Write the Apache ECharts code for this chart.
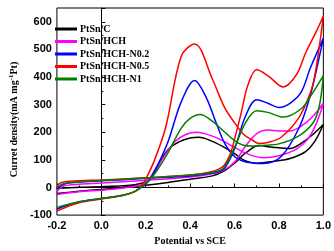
<!DOCTYPE html>
<html><head><meta charset="utf-8">
<script src="https://cdn.jsdelivr.net/npm/echarts@6/dist/echarts.min.js"></script>
<style>html,body{margin:0;padding:0;background:#fff}#c{width:334px;height:251px}</style>
</head><body><div id="c"></div>
<script>
const seriesNames = ['PtSn/C', 'PtSn/HCH', 'PtSn/HCH-N0.2', 'PtSn/HCH-N0.5', 'PtSn/HCH-N1'];
const xTicks = [-0.2, 0.0, 0.2, 0.4, 0.6, 0.8, 1.0];
const yTicks = [-100, 0, 100, 200, 300, 400, 500, 600];

// Each series: potentials (V vs SCE) and current densities along the CV loop (forward then backward)
const blackE = [-0.2,-0.1,0.0,0.1,0.2,0.3,0.4,0.5,0.55,0.6,0.65,0.71,0.77,0.85,0.9,0.95,1.0, 0.96,0.92,0.85,0.78,0.7,0.64,0.6,0.55,0.5,0.44,0.4,0.35,0.3,0.26,0.22,0.2,0.15,0.1,0.0,-0.1,-0.2];
const blackI = [-22,-14,-7,0,8,18,30,42,58,88,125,152,146,141,160,190,228, 165,130,105,95,88,100,123,147,167,182,179,165,137,88,35,20,10,6,3,1,-3];

const magentaE = [-0.2,-0.17,-0.1,0.0,0.2,0.4,0.5,0.55,0.6,0.65,0.7,0.75,0.8,0.85,0.9,0.95,1.0, 0.97,0.93,0.88,0.8,0.73,0.67,0.6,0.55,0.5,0.43,0.38,0.33,0.28,0.24,0.21,0.18,0.1,0.0,-0.1,-0.2];
const magentaI = [-15,5,12,16,26,38,50,62,92,150,195,208,205,205,222,255,305, 235,175,140,115,108,118,145,168,186,200,192,165,110,55,28,10,-2,-10,-15,-25];

const blueE = [-0.2,-0.16,-0.1,0.0,0.2,0.4,0.5,0.55,0.6,0.65,0.7,0.75,0.8,0.85,0.9,0.94,1.0, 0.97,0.94,0.89,0.81,0.73,0.68,0.64,0.6,0.556,0.514,0.47,0.42,0.36,0.3,0.25,0.22,0.18,0.15,0.1,0.0,-0.1,-0.2];
const blueI = [-5,14,20,24,33,42,52,65,140,260,318,305,290,305,345,430,540, 430,330,215,112,87,89,95,112,159,241,330,387,310,165,75,30,0,-15,-28,-40,-52,-78];

const redE = [-0.2,-0.18,-0.1,0.0,0.2,0.4,0.5,0.55,0.58,0.6,0.63,0.66,0.7,0.75,0.82,0.88,0.92,0.97,1.0, 0.98,0.96,0.94,0.89,0.81,0.75,0.71,0.68,0.64,0.6,0.556,0.5,0.42,0.36,0.29,0.24,0.2,0.18,0.15,0.1,0.0,-0.1,-0.2];
const redI = [5,18,24,27,35,45,58,78,120,175,270,370,426,405,364,410,487,568,621, 500,400,340,253,182,163,159,172,193,235,288,393,520,475,218,100,30,5,-15,-28,-42,-55,-85];

const greenE = [-0.2,-0.17,-0.1,0.0,0.2,0.4,0.5,0.55,0.6,0.65,0.7,0.75,0.82,0.9,0.95,1.0, 0.98,0.95,0.88,0.8,0.74,0.68,0.64,0.6,0.54,0.5,0.445,0.4,0.36,0.3,0.25,0.22,0.18,0.15,0.1,0.0,-0.1,-0.2];
const greenI = [0,14,20,25,35,45,55,70,145,235,278,272,255,285,340,405, 288,230,182,158,153,150,153,170,212,240,264,250,215,125,60,30,2,-15,-27,-40,-52,-72];

const colors = ['#000000', '#ff00ff', '#0000ff', '#ff0000', '#008000'];
const allE = [blackE, magentaE, blueE, redE, greenE];
const allI = [blackI, magentaI, blueI, redI, greenI];

const chart = echarts.init(document.getElementById('c'));
const serif = '"Liberation Serif","Times New Roman",serif';
const sans = '"Liberation Sans",Arial,sans-serif';
chart.setOption({
  animation: false,
  grid: {left: 41, right: 9, top: 8, bottom: 30, show: true, borderColor: '#000', borderWidth: 1},
  legend: {
    data: seriesNames, orient: 'vertical', left: 55, top: 24, padding: 0,
    icon: 'rect', itemWidth: 22, itemHeight: 3, itemGap: 2.5,
    lineStyle: {width: 0, opacity: 0},
    textStyle: {fontFamily: serif, fontWeight: 'bold', fontSize: 10, color: '#000', lineHeight: 10, padding: [0,0,0,-2]}
  },
  xAxis: {
    type: 'value', min: xTicks[0], max: xTicks[xTicks.length-1], interval: 0.2,
    name: 'Potential vs SCE', nameLocation: 'middle', nameGap: 17,
    nameTextStyle: {fontFamily: serif, fontWeight: 'bold', fontSize: 10, color: '#000'},
    axisLine: {lineStyle: {color: '#000'}},
    axisTick: {inside: true, length: 4, lineStyle: {color: '#000'}},
    minorTick: {show: true, splitNumber: 2, length: 2, lineStyle: {color: '#000'}},
    splitLine: {show: false},
    axisLabel: {fontFamily: sans, fontWeight: 'bold', fontSize: 11, color: '#000', margin: 5,
      formatter: v => v.toFixed(1)}
  },
  yAxis: {
    type: 'value', min: -100, max: 650, interval: 100,
    name: 'Curret density(mA mg{sup|-1}Pt)', nameLocation: 'middle', nameGap: 29,
    nameTextStyle: {fontFamily: serif, fontWeight: 'bold', fontSize: 10, color: '#000', padding: [0,16,0,0],
      rich: {sup: {fontFamily: serif, fontWeight: 'bold', fontSize: 7, verticalAlign: 'top', padding: [0,0,5,0]}}},
    axisLine: {show: true, lineStyle: {color: '#000'}},
    axisTick: {inside: true, length: 4, lineStyle: {color: '#000'}},
    minorTick: {show: true, splitNumber: 2, length: 2, lineStyle: {color: '#000'}},
    splitLine: {show: false},
    axisLabel: {fontFamily: sans, fontWeight: 'bold', fontSize: 11, color: '#000', margin: 5,
      formatter: v => (yTicks.indexOf(v) >= 0 ? String(v) : '')}
  },
  series: seriesNames.map((n, k) => ({
    name: n, type: 'line', smooth: 0.35, symbol: 'none',
    color: colors[k],
    lineStyle: {width: 1.5, color: colors[k]},
    data: allE[k].map((e, i) => [e, allI[k][i]])
  }))
});
</script></body></html>
